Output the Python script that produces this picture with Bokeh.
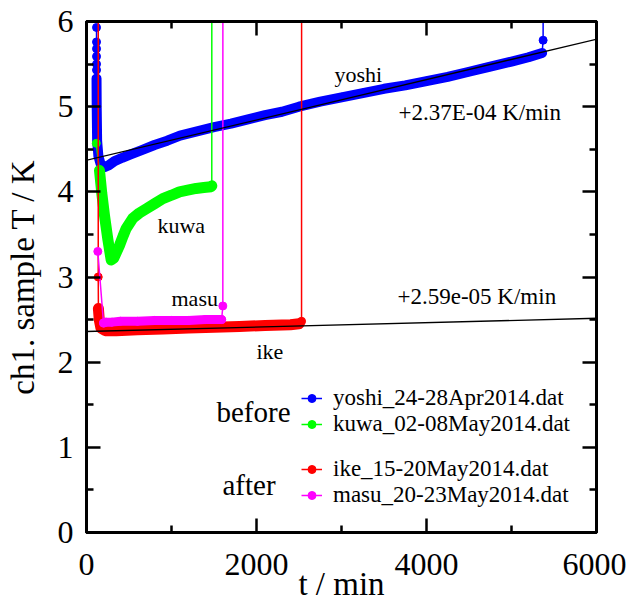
from bokeh.plotting import figure
from bokeh.models import Range1d, LinearAxis, FixedTicker, Slope, Label, Legend, LegendItem
from bokeh.embed import file_html
from bokeh.resources import INLINE

# ---------------- data ----------------
yoshi_t = [118, 118, 118, 118, 118, 118, 118, 120, 125, 140, 165, 212, 260, 330, 420,
           520, 650, 800, 950, 1100, 1300, 1500, 1700, 1900, 2100, 2300, 2500, 2750,
           3000, 3250, 3500, 3750, 4000, 4250, 4500, 4750, 5000, 5200, 5360, 5372, 5374]
yoshi_T = [5.93, 5.76, 5.68, 5.59, 5.50, 5.43, 5.33, 5.00, 4.60, 4.42, 4.33, 4.29, 4.31,
           4.36, 4.40, 4.44, 4.49, 4.55, 4.60, 4.66, 4.71, 4.76, 4.80, 4.85, 4.90, 4.94,
           5.00, 5.06, 5.11, 5.16, 5.21, 5.25, 5.30, 5.35, 5.41, 5.47, 5.53, 5.58, 5.63,
           5.78, 20.0]

kuwa_t = [115, 153, 180, 212, 250, 290, 320, 388, 430, 467, 545, 620, 702, 800, 898,
          1000, 1094, 1190, 1290, 1380, 1467, 1474, 1476]
kuwa_T = [4.57, 4.25, 3.98, 3.72, 3.45, 3.20, 3.22, 3.37, 3.48, 3.57, 3.69, 3.75, 3.80,
          3.86, 3.92, 3.96, 4.00, 4.02, 4.04, 4.05, 4.06, 4.07, 20.0]

ike_t = [138, 138, 140, 150, 170, 220, 350, 600, 900, 1200, 1500, 1800, 2100, 2400,
         2500, 2530, 2533]
ike_T = [20.0, 3.00, 2.63, 2.50, 2.40, 2.37, 2.37, 2.38, 2.39, 2.40, 2.41, 2.42, 2.43,
         2.44, 2.45, 2.48, 20.0]

masu_t = [133, 200, 230, 300, 400, 600, 800, 1000, 1200, 1400, 1590, 1604, 1606]
masu_T = [3.30, 2.46, 2.47, 2.47, 2.48, 2.48, 2.49, 2.49, 2.49, 2.50, 2.50, 2.66, 20.0]

series_names = ["yoshi_24-28Apr2014.dat", "kuwa_02-08May2014.dat",
                "ike_15-20May2014.dat", "masu_20-23May2014.dat"]

# linear fits: (gradient in K/min, intercept in K)
yoshi_fit = (2.37e-4, 4.37)
ike_fit = (2.59e-5, 2.36)
fit_texts = ["+2.37E-04 K/min", "+2.59e-05 K/min"]

x_major = [0, 2000, 4000, 6000]
x_minor = [1000, 3000, 5000]
y_major = [0, 1, 2, 3, 4, 5, 6]
y_minor = [0.5, 1.5, 2.5, 3.5, 4.5, 5.5]

x_title = "t / min"
y_title = "ch1. sample T / K"

FONT = "Liberation Serif"

# ---------------- figure ----------------
p = figure(width=626, height=606, x_range=Range1d(0, 6000), y_range=Range1d(0, 6),
           output_backend="svg", toolbar_location=None,
           min_border_left=86, min_border_right=30, min_border_top=21, min_border_bottom=74)
p.xgrid.visible = False
p.ygrid.visible = False
p.outline_line_color = "black"
p.outline_line_width = 3
p.background_fill_color = "white"
p.border_fill_color = "white"

p.add_layout(LinearAxis(), "above")
p.add_layout(LinearAxis(), "right")


def style_axis(ax, ticker, show_labels, standoff):
    ax.ticker = ticker
    ax.axis_line_width = 3
    ax.axis_line_color = "black"
    ax.major_tick_in = 14
    ax.major_tick_out = 0
    ax.minor_tick_in = 7
    ax.minor_tick_out = 0
    ax.major_tick_line_width = 2.5
    ax.minor_tick_line_width = 2.5
    ax.major_label_text_font = FONT
    ax.major_label_text_color = "black"
    ax.major_label_standoff = standoff
    if show_labels:
        ax.major_label_text_font_size = "32px"
    else:
        ax.major_label_text_font_size = "1px"
        ax.major_label_text_alpha = 0


for ax in p.below:
    style_axis(ax, FixedTicker(ticks=x_major, minor_ticks=x_minor), True, 21)
for ax in p.above:
    style_axis(ax, FixedTicker(ticks=x_major, minor_ticks=x_minor), False, 0)
for ax in p.left:
    style_axis(ax, FixedTicker(ticks=y_major, minor_ticks=y_minor), True, 13)
for ax in p.right:
    style_axis(ax, FixedTicker(ticks=y_major, minor_ticks=y_minor), False, 0)

xa = p.below[0]
xa.axis_label = x_title
xa.axis_label_text_font = FONT
xa.axis_label_text_font_size = "33px"
xa.axis_label_text_font_style = "normal"
xa.axis_label_text_color = "black"
xa.axis_label_standoff = -12

ya = p.left[0]
ya.axis_label = y_title
ya.axis_label_text_font = FONT
ya.axis_label_text_font_size = "33px"
ya.axis_label_text_font_style = "normal"
ya.axis_label_text_color = "black"
ya.axis_label_standoff = 14

# ---------------- series ----------------
colors = ["#0000ff", "#00ff00", "#ff0000", "#ff00ff"]
series = [
    (yoshi_t, yoshi_T, 6, 39, 10),
    (kuwa_t, kuwa_T, 1, 22, 11),
    (ike_t, ike_T, 2, 15, 11),
    (masu_t, masu_T, 1, 11, 9),
]
legend_renderers = []
for (t, T, a, b, w), c in zip(series, colors):
    thin = p.line(t, T, line_color=c, line_width=1.5)
    p.line(t[a:b], T[a:b], line_color=c, line_width=w, line_join="round", line_cap="round")
    dots = p.scatter(t, T, size=8, fill_color=c, line_color=c)
    legend_renderers.append([thin, dots])

# fit lines
for g, b0 in (yoshi_fit, ike_fit):
    p.add_layout(Slope(gradient=g, y_intercept=b0, line_color="black", line_width=1.3))

# ---------------- legends ----------------
groups = [((0, 1), (215, 95)), ((2, 3), (215, 24))]
for idx, loc in groups:
    items = [LegendItem(label=series_names[i], renderers=legend_renderers[i]) for i in idx]
    leg = Legend(items=items, location=loc, padding=0, margin=0, spacing=0,
                 glyph_width=21, glyph_height=20, label_height=20, label_standoff=11,
                 label_text_font=FONT, label_text_font_size="23px",
                 label_text_line_height=1.0, label_text_color="black",
                 border_line_color=None, background_fill_alpha=0)
    p.add_layout(leg)

# ---------------- text annotations ----------------
def dlabel(x, y, text, size):
    p.add_layout(Label(x=x, y=y, text=text, text_font=FONT, text_font_size=size,
                       text_color="black", text_align="left", text_baseline="alphabetic"))


dlabel(2918, 5.38, "yoshi", "22px")
dlabel(3671, 4.93, fit_texts[0], "23px")
dlabel(835, 3.61, "kuwa", "22px")
dlabel(1000, 2.75, "masu", "22px")
dlabel(2000, 2.12, "ike", "22px")
dlabel(3659, 2.77, fit_texts[1], "23px")
dlabel(1529, 1.42, "before", "29px")
dlabel(1600, 0.56, "after", "29px")

open("out.html", "w").write(file_html(p, INLINE))
